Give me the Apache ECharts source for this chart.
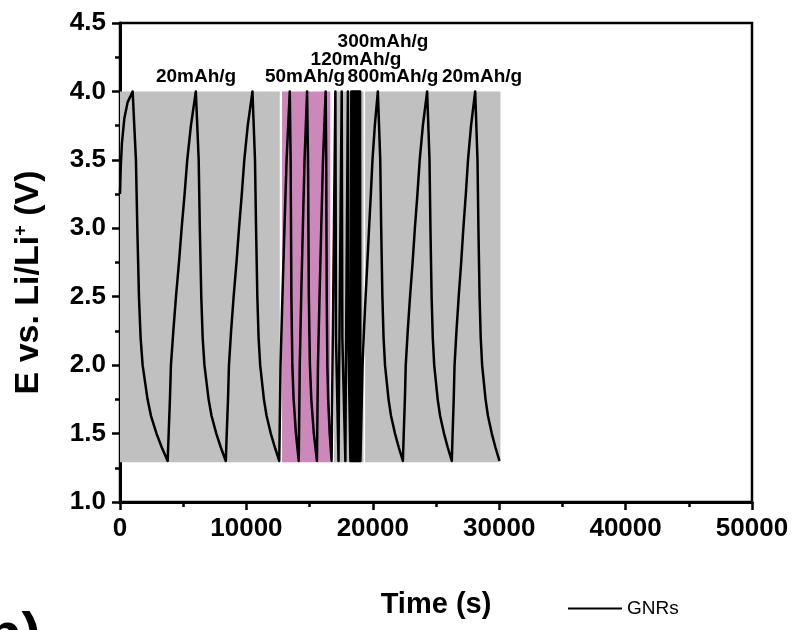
<!DOCTYPE html>
<html><head><meta charset="utf-8">
<script src="https://cdn.jsdelivr.net/npm/echarts@6/dist/echarts.min.js"></script>
<style>html,body{margin:0;padding:0;background:#fff}#c{width:795px;height:630px}</style>
</head><body><div id="c"></div>
<script>
// ---- data: [time (s), E (V)] ----
const cycles20a = [[0,3.25],[60,3.45],[150,3.62],[340,3.8],[600,3.92],[1000,4.0],
 [1260,3.5],[1370,3.0],[1500,2.5],[1630,2.2],[1790,2.0],[2180,1.75],[2450,1.63],[2890,1.5],[3300,1.4],[3770,1.3],
 [3850,1.5],[3950,1.75],[4030,2.0],[4220,2.25],[4430,2.5],[4665,2.75],[4875,3.0],[5110,3.25],[5320,3.5],[5610,3.75],[6000,4.0],
 [6225,3.5],[6315,3.0],[6430,2.5],[6540,2.2],[6680,2.0],[7010,1.75],[7240,1.63],[7620,1.5],[7970,1.4],[8370,1.3],
 [8445,1.5],[8545,1.75],[8620,2.0],[8790,2.25],[8990,2.5],[9215,2.75],[9415,3.0],[9635,3.25],[9835,3.5],[10105,3.75],[10480,4.0],
 [10680,3.5],[10765,3.0],[10865,2.5],[10965,2.2],[11090,2.0],[11385,1.75],[11595,1.63],[11930,1.5],[12250,1.4],[12600,1.3]];
const cycles50 = [[12630,1.5],[12700,2.0],[12850,2.5],[13010,3.0],[13180,3.5],[13430,4.0],
 [13500,3.5],[13560,2.5],[13635,2.0],[13735,1.75],[13920,1.5],[14140,1.3],
 [14165,1.5],[14220,2.0],[14335,2.5],[14465,3.0],[14600,3.5],[14800,4.0],
 [14875,3.5],[14940,2.5],[15025,2.0],[15135,1.75],[15335,1.5],[15580,1.3],
 [15605,1.5],[15660,2.0],[15785,2.5],[15920,3.0],[16060,3.5],[16270,4.0],
 [16315,3.5],[16355,2.5],[16405,2.0],[16470,1.75],[16590,1.5],[16740,1.3]];
const cycles120 = [[16790,1.8],[17040,4.0],[17090,2.2],[17290,1.3],[17320,1.8],[17540,4.0],[17590,2.2],[17830,1.3]];
const cycles300 = [[17860,1.8],[18030,4.0],[18070,2.2],[18230,1.3],[18245,1.8],[18300,4.0],[18320,2.2],[18360,1.3]];
const cycles800 = [[18390,4.0],[18420,1.3],[18450,4.0],[18480,1.3],[18510,4.0],[18540,1.3],[18570,4.0],[18600,1.3],
 [18630,4.0],[18660,1.3],[18690,4.0],[18720,1.3],[18750,4.0],[18780,1.3],[18810,4.0],[18840,1.3],[18870,4.0],[18900,1.3],
 [18930,4.0],[18960,1.3],[18990,4.0],[19020,1.3]];
const cycles20b = [[19070,1.5],[19130,1.75],[19190,2.0],[19300,2.25],[19430,2.5],[19570,2.75],[19705,3.0],[19845,3.25],[19975,3.5],[20160,3.75],[20400,4.0],
 [20589,3.5],[20664,3.0],[20759,2.5],[20852,2.2],[20967,2.0],[21246,1.75],[21440,1.63],[21756,1.5],[22050,1.4],[22380,1.3],
 [22448,1.5],[22538,1.75],[22606,2.0],[22764,2.25],[22945,2.5],[23149,2.75],[23329,3.0],[23531,3.25],[23712,3.5],[23961,3.75],[24300,4.0],
 [24486,3.5],[24560,3.0],[24653,2.5],[24745,2.2],[24858,2.0],[25134,1.75],[25324,1.63],[25635,1.5],[25925,1.4],[26250,1.3],
 [26315,1.5],[26402,1.75],[26468,2.0],[26620,2.25],[26795,2.5],[26991,2.75],[27165,3.0],[27359,3.25],[27533,3.5],[27773,3.75],[28100,4.0],
 [28283,3.5],[28356,3.0],[28448,2.5],[28538,2.2],[28650,2.0],[28921,1.75],[29109,1.63],[29415,1.5],[29700,1.4],[30020,1.3]];

// shaded rate regions
const bandStart = [0, 12820, 16930, 19390];
const bandEnd   = [12640, 16640, 19270, 30100];
const bandColor = ['#c0c0c0', '#cc88bb', '#c0c0c0', '#c0c0c0'];
const bandLow = 1.29, bandHigh = 4.0;

// rate annotations
const rateLabels = ['20mAh/g', '50mAh/g', '120mAh/g', '300mAh/g', '800mAh/g', '20mAh/g'];
const rateLabelPos = [[196,77],[305,77],[356,60],[383,42],[393,77],[482,77]];

const seriesName = 'GNRs';
const allData = [].concat(cycles20a, cycles50, cycles120, cycles300, cycles800, cycles20b);

const chart = echarts.init(document.getElementById('c'));
const FF = '"Liberation Sans", Arial, sans-serif';
chart.setOption({
  animation: false,
  backgroundColor: '#fff',
  grid: { left: 120, right: 43, top: 23, bottom: 128, show: true, borderColor: '#000', borderWidth: 2.5 },
  xAxis: {
    type: 'value', min: 0, max: 50000, interval: 10000,
    name: 'Time (s)', nameLocation: 'middle', nameGap: 88,
    nameTextStyle: { fontFamily: FF, fontWeight: 'bold', fontSize: 29, color: '#000' },
    axisLine: { lineStyle: { color: '#000', width: 3 } },
    axisTick: { length: 8, lineStyle: { width: 2.5, color: '#000' } },
    minorTick: { show: true, splitNumber: 2, length: 5, lineStyle: { width: 2.5, color: '#000' } },
    splitLine: { show: false },
    axisLabel: { margin: 14, fontFamily: FF, fontWeight: 'bold', fontSize: 26, color: '#000',
      formatter: v => String(v) }
  },
  yAxis: {
    type: 'value', min: 1.0, max: 4.5, interval: 0.5,
    name: 'E vs. Li/Li{sup|+} (V)', nameLocation: 'middle', nameGap: 74,
    nameTextStyle: { fontFamily: FF, fontWeight: 'bold', fontSize: 34, color: '#000', padding: [0, 40, 0, 0],
      rich: { sup: { fontFamily: FF, fontWeight: 'bold', fontSize: 18, verticalAlign: 'top', padding: [0,0,16,0], color: '#000' } } },
    axisLine: { lineStyle: { color: '#000', width: 3 } },
    axisTick: { length: 8, lineStyle: { width: 2.5, color: '#000' } },
    minorTick: { show: true, splitNumber: 2, length: 5, lineStyle: { width: 2.5, color: '#000' } },
    splitLine: { show: false },
    axisLabel: { margin: 14, fontFamily: FF, fontWeight: 'bold', fontSize: 26, color: '#000',
      formatter: v => v.toFixed(1) }
  },
  legend: {
    data: [seriesName], left: 563, top: 594, icon: 'rect', itemWidth: 54, itemHeight: 2, itemGap: 4,
    textStyle: { fontFamily: FF, fontSize: 19, color: '#000', padding: [0,0,0,0] }
  },
  series: [
    {
      name: 'bands', type: 'line', data: [], z: 1, silent: true,
      markArea: {
        silent: true,
        data: bandStart.map((s, i) => [
          { xAxis: s, yAxis: bandLow, itemStyle: { color: bandColor[i], opacity: 1 } },
          { xAxis: bandEnd[i], yAxis: bandHigh }
        ])
      }
    },
    {
      name: seriesName, type: 'line', data: allData, z: 3, showSymbol: false, symbol: 'none',
      lineStyle: { color: '#000', width: 2.5, join: 'round' }, itemStyle: { color: '#000' }
    }
  ],
  graphic: rateLabels.map((t, i) => ({
    type: 'text', x: rateLabelPos[i][0], y: rateLabelPos[i][1], z: 10,
    style: { text: t, fill: '#000', font: 'bold 19px ' + FF, textAlign: 'center', textVerticalAlign: 'middle' }
  })).concat([{
    type: 'text', x: -14, y: 608, z: 10,
    style: { text: 'b)', fill: '#000', font: 'bold 58px ' + FF, textVerticalAlign: 'top' }
  }])
});
</script></body></html>
